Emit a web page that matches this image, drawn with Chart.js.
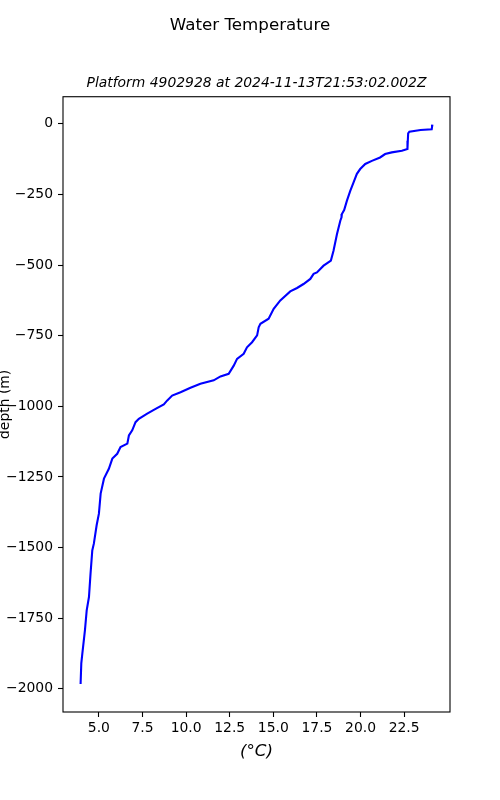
<!DOCTYPE html>
<html>
<head>
<meta charset="utf-8">
<script src="https://cdn.jsdelivr.net/npm/chart.js@4.4.1/dist/chart.umd.min.js"></script>
<style>
  body { margin: 0; background: #fff; }
</style>
</head>
<body>
<canvas id="chart" width="500" height="800"></canvas>
<script>
// profile: depth (m) and temperature (degC)
const depths = [-3, -11, -19, -22, -28, -34, -60, -89, -95, -101, -107, -119, -131, -142, -160, -177,
  -207, -237, -272, -305, -319, -331, -343, -390, -449, -484, -494, -502, -526, -531, -549, -567,
  -581, -593, -625, -655, -690, -708, -720, -749, -773, -791, -814, -832, -856, -885, -894, -908,
  -920, -934, -950, -962, -979, -993, -1009, -1026, -1044, -1056, -1085, -1103, -1132, -1144,
  -1168, -1185, -1221, -1256, -1309, -1380, -1421, -1486, -1510, -1592, -1675, -1722, -1792,
  -1875, -1910, -1983];
const temps = [24.12, 24.10, 24.08, 23.44, 22.80, 22.73, 22.71, 22.69, 22.37, 21.79, 21.41, 21.12,
  20.65, 20.27, 19.98, 19.79, 19.60, 19.41, 19.22, 19.06, 18.93, 18.91, 18.84, 18.65, 18.45, 18.30,
  18.07, 17.88, 17.50, 17.31, 17.12, 16.73, 16.36, 15.97, 15.40, 15.02, 14.73, 14.26, 14.16, 14.07,
  13.78, 13.49, 13.30, 12.92, 12.73, 12.44, 11.97, 11.58, 10.82, 10.25, 9.68, 9.20, 8.92, 8.72,
  8.25, 7.77, 7.29, 7.10, 6.91, 6.72, 6.63, 6.24, 6.05, 5.77, 5.57, 5.29, 5.10, 5.00, 4.87, 4.71,
  4.62, 4.52, 4.43, 4.30, 4.20, 4.05, 3.99, 3.95];

const xTicks = [5, 7.5, 10, 12.5, 15, 17.5, 20, 22.5];
const yTicks = [0, -250, -500, -750, -1000, -1250, -1500, -1750, -2000];

const title = 'Water Temperature';
const subtitle = 'Platform 4902928 at 2024-11-13T21:53:02.002Z';

// 5% margins like matplotlib
function padRange(vals) {
  let lo = Math.min(...vals), hi = Math.max(...vals);
  let m = (hi - lo) * 0.05;
  return [lo - m, hi + m];
}
const xr = padRange(temps);
const yr = padRange(depths);

const points = depths.map((d, i) => ({x: temps[i], y: d}));

const font = 'DejaVu Sans';

const frame = {
  id: 'frame',
  afterDatasetsDraw(chart) {
    const a = chart.chartArea;
    const ctx = chart.ctx;
    ctx.save();
    ctx.strokeStyle = '#000';
    ctx.lineWidth = 1.1;
    ctx.strokeRect(a.left, a.top, a.right - a.left, a.bottom - a.top);
    ctx.restore();
  }
};

const tickGrid = {
  display: true,
  drawOnChartArea: false,
  drawTicks: true,
  tickLength: 5,
  tickWidth: 1.1,
  tickColor: '#000'
};

new Chart('chart', {
  type: 'scatter',
  data: {
    datasets: [{
      data: points,
      showLine: true,
      borderColor: '#0000ff',
      borderWidth: 2.1,
      pointRadius: 0,
      tension: 0
    }]
  },
  options: {
    responsive: false,
    animation: false,
    layout: { padding: 0 },
    plugins: {
      legend: { display: false },
      tooltip: { enabled: false },
      title: {
        display: true,
        text: title,
        color: '#000',
        font: { family: font, size: 16.7, weight: 'normal' },
        padding: { top: 16, bottom: 0 }
      },
      subtitle: {
        display: true,
        text: subtitle,
        fullSize: false,
        color: '#000',
        font: { family: font, size: 13.9, style: 'italic', weight: 'normal' },
        padding: { top: 39.5, bottom: 4.5 }
      }
    },
    scales: {
      x: {
        type: 'linear',
        min: xr[0],
        max: xr[1],
        grid: tickGrid,
        border: { display: false },
        afterBuildTicks: s => { s.ticks = xTicks.map(v => ({value: v})); },
        afterFit: s => { s.height = 88; },
        ticks: {
          color: '#000',
          padding: 3.5,
          maxRotation: 0,
          font: { family: font, size: 13.9 },
          callback: v => v.toFixed(1)
        },
        title: {
          display: true,
          text: '(°C)',
          color: '#000',
          font: { family: font, size: 16.7, style: 'italic' },
          padding: { top: 0, bottom: 38 }
        }
      },
      y: {
        type: 'linear',
        min: yr[0],
        max: yr[1],
        grid: tickGrid,
        border: { display: false },
        afterBuildTicks: s => { s.ticks = yTicks.map(v => ({value: v})); },
        afterFit: s => { s.width = 63; },
        ticks: {
          color: '#000',
          padding: 5,
          font: { family: font, size: 13.9 },
          callback: v => v < 0 ? '\u2212' + Math.abs(v) : String(v)
        },
        title: {
          display: true,
          text: 'depth (m)',
          color: '#000',
          font: { family: font, size: 13.9 },
          padding: { top: -3, bottom: 0 }
        }
      },
      // empty axis on the right just to keep the right margin
      r: {
        type: 'linear',
        position: 'right',
        display: true,
        grid: { display: false },
        border: { display: false },
        ticks: { display: false },
        afterFit: s => { s.width = 50; }
      }
    }
  },
  plugins: [frame]
});
</script>
</body>
</html>
